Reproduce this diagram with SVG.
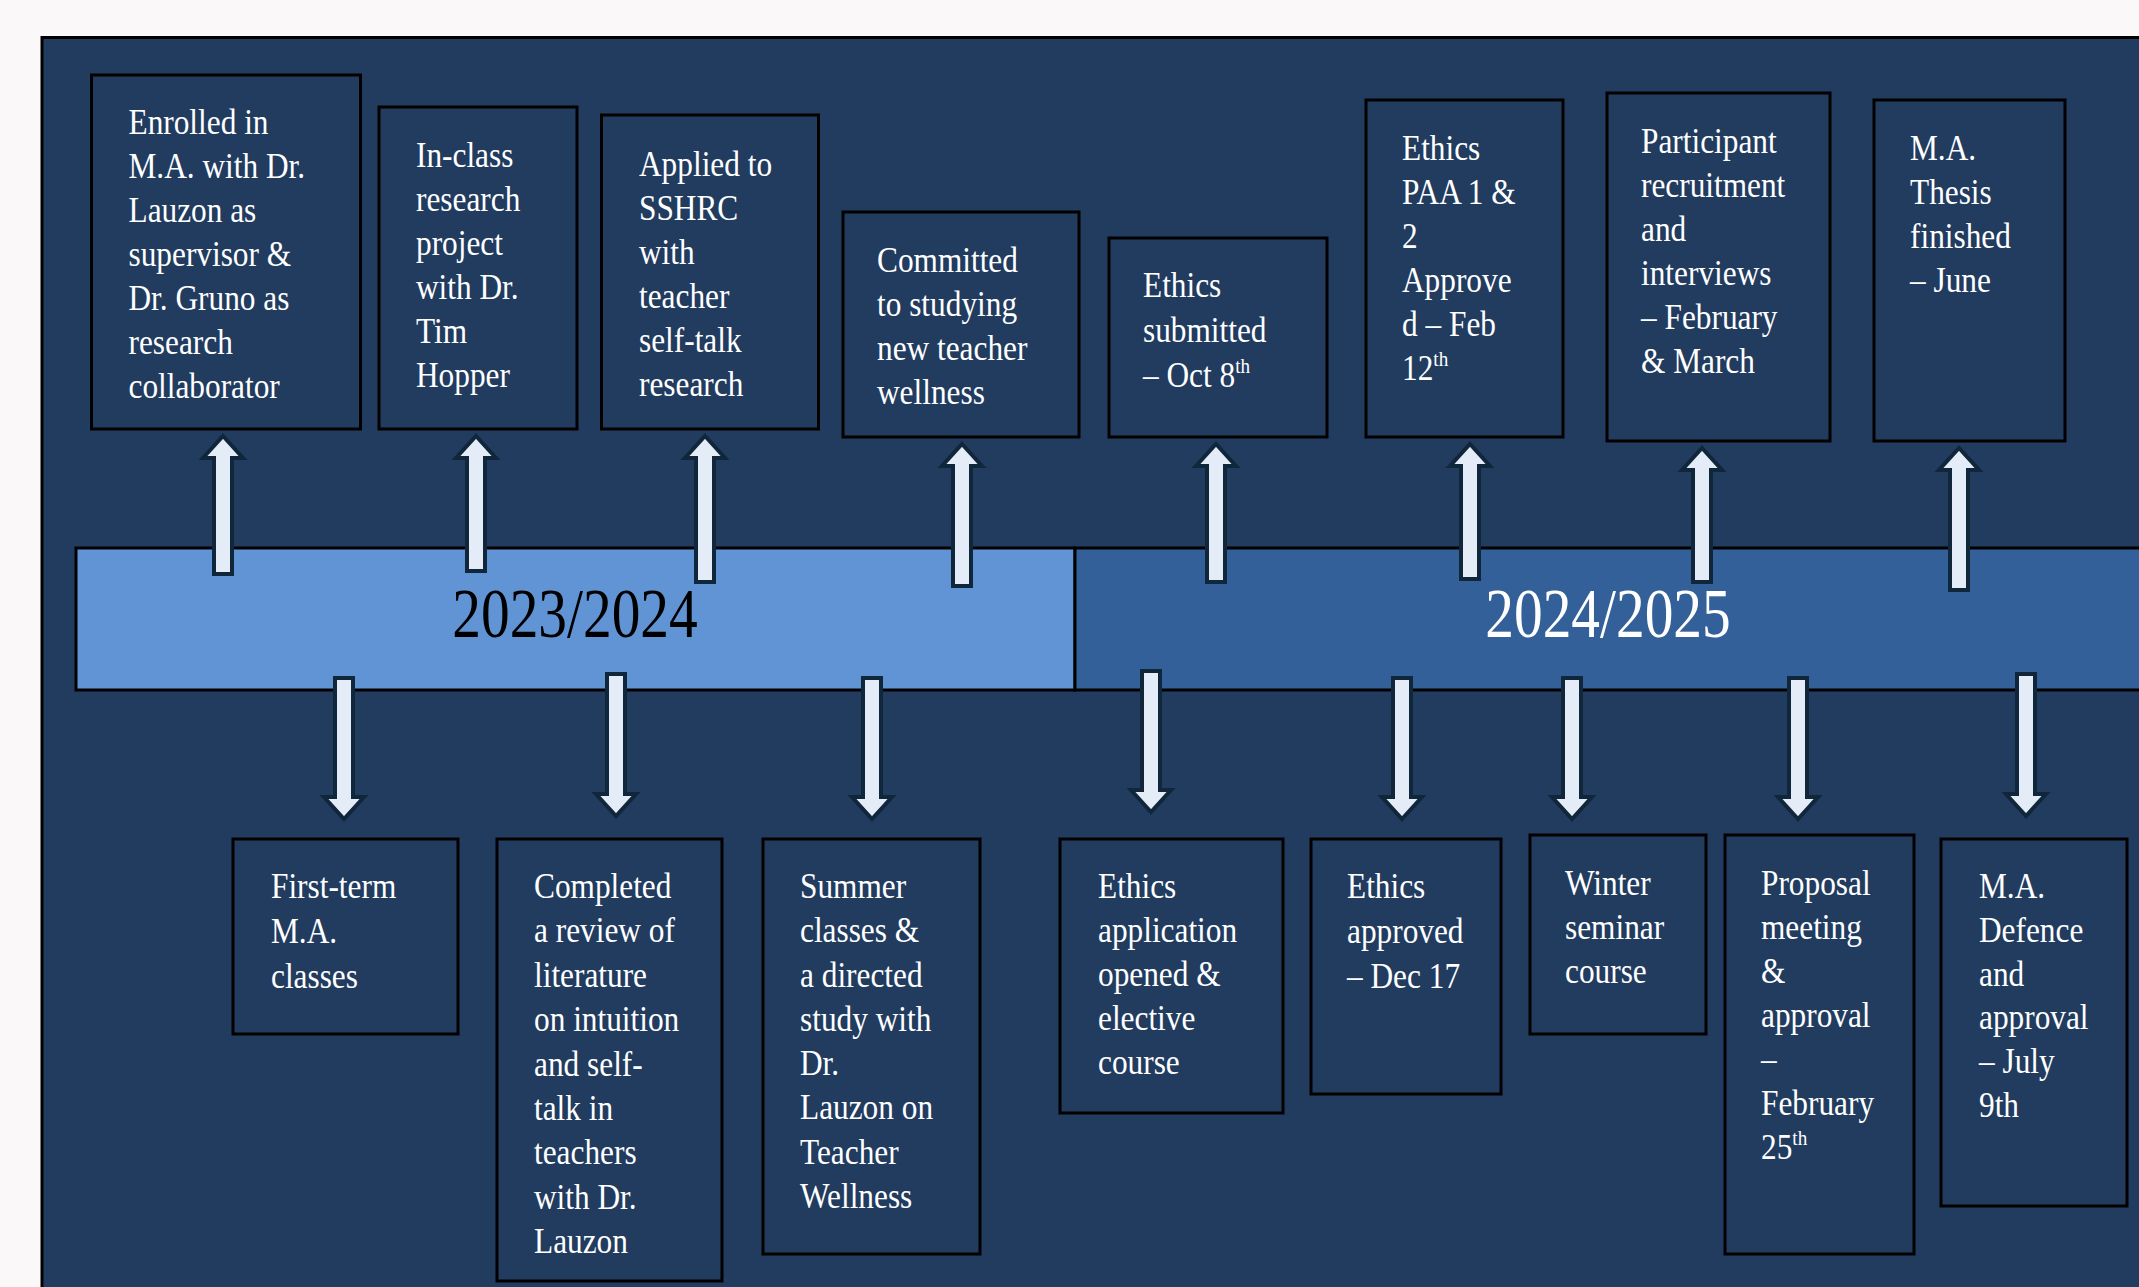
<svg xmlns="http://www.w3.org/2000/svg" width="2139" height="1287" viewBox="0 0 2139 1287">
<style>
.box{fill:#213c5f;stroke:#000;stroke-width:3}
.t{font-family:"Liberation Serif","Times New Roman",serif;font-size:36px;fill:#fff}
.sup{font-size:22px}
.yr{font-family:"Liberation Serif","Times New Roman",serif;font-size:70px;text-anchor:middle}
.arr{fill:#e3ecf7;stroke:#10263a;stroke-width:4;stroke-linejoin:miter}
</style>
<rect x="0" y="0" width="2139" height="1287" fill="#faf8f9"/>
<rect x="42" y="37.5" width="2200" height="1400" fill="#213c5f" stroke="#000" stroke-width="3"/>
<g id="timeline">
<rect x="76" y="548" width="999" height="142" fill="#6194d4" stroke="#000" stroke-width="3"/>
<rect x="1075" y="548" width="1200" height="142" fill="#336098" stroke="#000" stroke-width="3"/>
<text class="yr" transform="translate(575,637) scale(0.82,1)" fill="#000">2023/2024</text>
<text class="yr" transform="translate(1608,637) scale(0.82,1)" fill="#fff">2024/2025</text>
</g>
<g id="nodes">
<g id="n1"><rect class="box" x="91.5" y="75" width="269" height="354"/>
<text class="t" transform="translate(128.5,134) scale(0.87,1)"><tspan x="0" y="0">Enrolled in</tspan><tspan x="0" dy="44">M.A. with Dr.</tspan><tspan x="0" dy="44">Lauzon as</tspan><tspan x="0" dy="44">supervisor &amp;</tspan><tspan x="0" dy="44">Dr. Gruno as</tspan><tspan x="0" dy="44">research</tspan><tspan x="0" dy="44">collaborator</tspan></text></g>
<g id="n2"><rect class="box" x="379" y="107" width="198" height="322"/>
<text class="t" transform="translate(416,167) scale(0.87,1)"><tspan x="0" y="0">In-class</tspan><tspan x="0" dy="44">research</tspan><tspan x="0" dy="44">project</tspan><tspan x="0" dy="44">with Dr.</tspan><tspan x="0" dy="44">Tim</tspan><tspan x="0" dy="44">Hopper</tspan></text></g>
<g id="n3"><rect class="box" x="601.5" y="115" width="217" height="314"/>
<text class="t" transform="translate(639,176) scale(0.87,1)"><tspan x="0" y="0">Applied to</tspan><tspan x="0" dy="44">SSHRC</tspan><tspan x="0" dy="44">with</tspan><tspan x="0" dy="44">teacher</tspan><tspan x="0" dy="44">self-talk</tspan><tspan x="0" dy="44">research</tspan></text></g>
<g id="n4"><rect class="box" x="843" y="212" width="236" height="225"/>
<text class="t" transform="translate(877,272) scale(0.87,1)"><tspan x="0" y="0">Committed</tspan><tspan x="0" dy="44">to studying</tspan><tspan x="0" dy="44">new teacher</tspan><tspan x="0" dy="44">wellness</tspan></text></g>
<g id="n5"><rect class="box" x="1109" y="238" width="218" height="199"/>
<text class="t" transform="translate(1143,297) scale(0.87,1)"><tspan x="0" y="0">Ethics</tspan><tspan x="0" dy="45">submitted</tspan><tspan x="0" dy="45">– Oct 8<tspan class="sup" dy="-14">th</tspan></tspan></text></g>
<g id="n6"><rect class="box" x="1366" y="100" width="197" height="337"/>
<text class="t" transform="translate(1402,160) scale(0.87,1)"><tspan x="0" y="0">Ethics</tspan><tspan x="0" dy="44">PAA 1 &amp;</tspan><tspan x="0" dy="44">2</tspan><tspan x="0" dy="44">Approve</tspan><tspan x="0" dy="44">d – Feb</tspan><tspan x="0" dy="44">12<tspan class="sup" dy="-14">th</tspan></tspan></text></g>
<g id="n7"><rect class="box" x="1607" y="93" width="223" height="348"/>
<text class="t" transform="translate(1641,153) scale(0.87,1)"><tspan x="0" y="0">Participant</tspan><tspan x="0" dy="44">recruitment</tspan><tspan x="0" dy="44">and</tspan><tspan x="0" dy="44">interviews</tspan><tspan x="0" dy="44">– February</tspan><tspan x="0" dy="44">&amp; March</tspan></text></g>
<g id="n8"><rect class="box" x="1874" y="100" width="191" height="341"/>
<text class="t" transform="translate(1910,160) scale(0.87,1)"><tspan x="0" y="0">M.A.</tspan><tspan x="0" dy="44">Thesis</tspan><tspan x="0" dy="44">finished</tspan><tspan x="0" dy="44">– June</tspan></text></g>
<g id="b1"><rect class="box" x="233" y="839" width="225" height="195"/>
<text class="t" transform="translate(271,898) scale(0.87,1)"><tspan x="0" y="0">First-term</tspan><tspan x="0" dy="45">M.A.</tspan><tspan x="0" dy="45">classes</tspan></text></g>
<g id="b2"><rect class="box" x="497" y="839" width="225" height="442"/>
<text class="t" transform="translate(534,898) scale(0.87,1)"><tspan x="0" y="0">Completed</tspan><tspan x="0" dy="44.4">a review of</tspan><tspan x="0" dy="44.4">literature</tspan><tspan x="0" dy="44.4">on intuition</tspan><tspan x="0" dy="44.4">and self-</tspan><tspan x="0" dy="44.4">talk in</tspan><tspan x="0" dy="44.4">teachers</tspan><tspan x="0" dy="44.4">with Dr.</tspan><tspan x="0" dy="44.4">Lauzon</tspan></text></g>
<g id="b3"><rect class="box" x="763" y="839" width="217" height="415"/>
<text class="t" transform="translate(800,898) scale(0.87,1)"><tspan x="0" y="0">Summer</tspan><tspan x="0" dy="44.3">classes &amp;</tspan><tspan x="0" dy="44.3">a directed</tspan><tspan x="0" dy="44.3">study with</tspan><tspan x="0" dy="44.3">Dr.</tspan><tspan x="0" dy="44.3">Lauzon on</tspan><tspan x="0" dy="44.3">Teacher</tspan><tspan x="0" dy="44.3">Wellness</tspan></text></g>
<g id="b4"><rect class="box" x="1060" y="839" width="223" height="274"/>
<text class="t" transform="translate(1098,898) scale(0.87,1)"><tspan x="0" y="0">Ethics</tspan><tspan x="0" dy="44">application</tspan><tspan x="0" dy="44">opened &amp;</tspan><tspan x="0" dy="44">elective</tspan><tspan x="0" dy="44">course</tspan></text></g>
<g id="b5"><rect class="box" x="1311" y="839" width="190" height="255"/>
<text class="t" transform="translate(1347,898) scale(0.87,1)"><tspan x="0" y="0">Ethics</tspan><tspan x="0" dy="45">approved</tspan><tspan x="0" dy="45">– Dec 17</tspan></text></g>
<g id="b6"><rect class="box" x="1530" y="835" width="176" height="199"/>
<text class="t" transform="translate(1565,895) scale(0.87,1)"><tspan x="0" y="0">Winter</tspan><tspan x="0" dy="44">seminar</tspan><tspan x="0" dy="44">course</tspan></text></g>
<g id="b7"><rect class="box" x="1725" y="835" width="189" height="419"/>
<text class="t" transform="translate(1761,895) scale(0.87,1)"><tspan x="0" y="0">Proposal</tspan><tspan x="0" dy="44">meeting</tspan><tspan x="0" dy="44">&amp;</tspan><tspan x="0" dy="44">approval</tspan><tspan x="0" dy="44">–</tspan><tspan x="0" dy="44">February</tspan><tspan x="0" dy="44">25<tspan class="sup" dy="-14">th</tspan></tspan></text></g>
<g id="b8"><rect class="box" x="1941" y="839" width="186" height="367"/>
<text class="t" transform="translate(1979,898) scale(0.87,1)"><tspan x="0" y="0">M.A.</tspan><tspan x="0" dy="43.8">Defence</tspan><tspan x="0" dy="43.8">and</tspan><tspan x="0" dy="43.8">approval</tspan><tspan x="0" dy="43.8">– July</tspan><tspan x="0" dy="43.8">9th</tspan></text></g>
</g>
<g id="connectors">
<path class="arr" d="M223,436 L243,458 L232,458 L232,574 L214,574 L214,458 L203,458 Z"/>
<path class="arr" d="M476,436 L496,458 L485,458 L485,571 L467,571 L467,458 L456,458 Z"/>
<path class="arr" d="M705,436 L725,458 L714,458 L714,582 L696,582 L696,458 L685,458 Z"/>
<path class="arr" d="M962,444 L982,466 L971,466 L971,586 L953,586 L953,466 L942,466 Z"/>
<path class="arr" d="M1216,444 L1236,466 L1225,466 L1225,582 L1207,582 L1207,466 L1196,466 Z"/>
<path class="arr" d="M1470,444 L1490,466 L1479,466 L1479,579 L1461,579 L1461,466 L1450,466 Z"/>
<path class="arr" d="M1702,448 L1722,470 L1711,470 L1711,582 L1693,582 L1693,470 L1682,470 Z"/>
<path class="arr" d="M1959,448 L1979,470 L1968,470 L1968,590 L1950,590 L1950,470 L1939,470 Z"/>
<path class="arr" d="M335,678 L353,678 L353,797 L364,797 L344,819 L324,797 L335,797 Z"/>
<path class="arr" d="M607,674 L625,674 L625,794 L636,794 L616,816 L596,794 L607,794 Z"/>
<path class="arr" d="M863,678 L881,678 L881,797 L892,797 L872,819 L852,797 L863,797 Z"/>
<path class="arr" d="M1142,671 L1160,671 L1160,790 L1171,790 L1151,812 L1131,790 L1142,790 Z"/>
<path class="arr" d="M1393,678 L1411,678 L1411,797 L1422,797 L1402,819 L1382,797 L1393,797 Z"/>
<path class="arr" d="M1563,678 L1581,678 L1581,797 L1592,797 L1572,819 L1552,797 L1563,797 Z"/>
<path class="arr" d="M1789,678 L1807,678 L1807,797 L1818,797 L1798,819 L1778,797 L1789,797 Z"/>
<path class="arr" d="M2017,674 L2035,674 L2035,794 L2046,794 L2026,816 L2006,794 L2017,794 Z"/>
</g>
</svg>
